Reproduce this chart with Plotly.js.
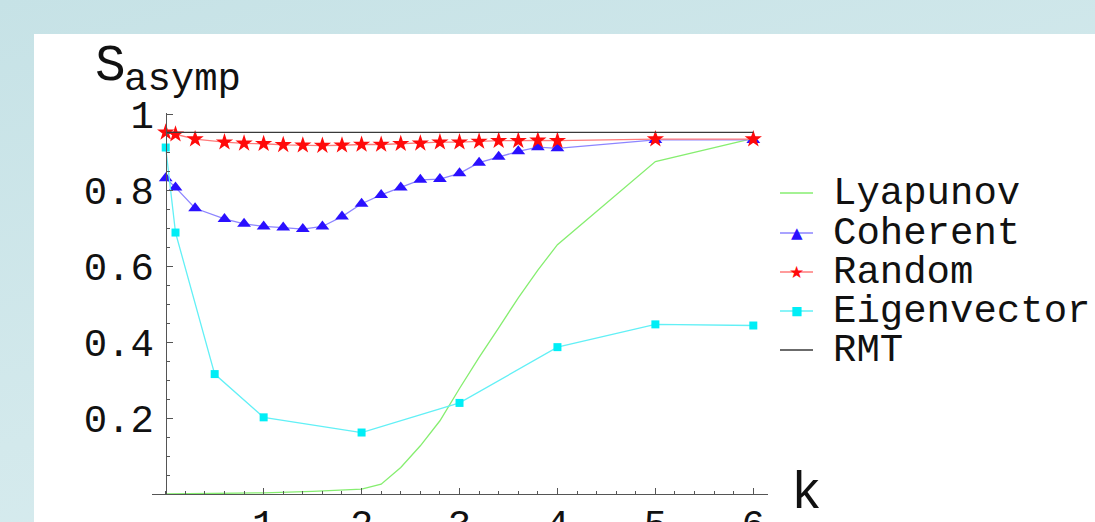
<!DOCTYPE html>
<html>
<head>
<meta charset="utf-8">
<script src="https://cdn.plot.ly/plotly-3.0.1.min.js"></script>
<style>
html,body{margin:0;padding:0;width:1095px;height:522px;overflow:hidden;
 background:linear-gradient(165deg,#c6e2e6 0%,#d3e9ec 55%,#dbeef1 100%);}
#chart{position:absolute;left:34px;top:34px;width:1061px;height:488px;background:#fff;}
</style>
</head>
<body>
<div id="chart"></div>
<script>
// ---- data ----
var kMain = [0,0.1,0.3,0.6,0.8,1.0,1.2,1.4,1.6,1.8,2.0,2.2,2.4,2.6,2.8,3.0,3.2,3.4,3.6,3.8,4.0,5,6];
var coherent = [0.832,0.808,0.753,0.725,0.712,0.705,0.702,0.698,0.705,0.731,0.765,0.788,0.808,0.828,0.830,0.845,0.873,0.889,0.903,0.914,0.911,0.933,0.933];
var random = [0.953,0.948,0.935,0.927,0.924,0.923,0.920,0.919,0.918,0.919,0.921,0.921,0.923,0.924,0.927,0.927,0.929,0.931,0.931,0.932,0.931,0.935,0.935];
var kEig = [0,0.1,0.5,1,2,3,4,5,6];
var eigenvector = [0.913,0.689,0.316,0.202,0.162,0.240,0.387,0.447,0.444];
var kLyap = [0,0.5,1,1.5,2,2.2,2.4,2.6,2.8,3.0,3.2,3.4,3.6,3.8,4,5,6];
var lyapunov = [0,0.001,0.003,0.007,0.013,0.026,0.07,0.127,0.193,0.278,0.36,0.438,0.517,0.59,0.657,0.876,0.937];
var kRMT = [0,6];
var rmt = [0.953,0.953];
var xTicks = [1,2,3,4,5,6];
var yTicks = [0.2,0.4,0.6,0.8,1];
var yTickText = ['0.2','0.4','0.6','0.8','1'];
var seriesNames = ['Lyapunov','Coherent','Random','Eigenvector','RMT'];

// ---- styles ----
var FONT = '"Liberation Mono", monospace';
var styles = {
  Lyapunov:   {line:'#86ee70', marker:null,       symbol:null,          size:0,  glyph:'',  gsize:0},
  Coherent:   {line:'#8d85ff', marker:'#2a10ff',  symbol:'triangle-up', size:12, glyph:'\u25B2', gsize:15},
  Random:     {line:'#ff7a7a', marker:'#ff0a0a',  symbol:'star',        size:13, glyph:'\u2605', gsize:17},
  Eigenvector:{line:'#62f0f6', marker:'#00eef6',  symbol:'square',      size:8,  glyph:'\u25A0', gsize:12},
  RMT:        {line:'#3a3a3a', marker:null,       symbol:null,          size:0,  glyph:'',  gsize:0}
};
var seriesX = {Lyapunov:kLyap, Coherent:kMain, Random:kMain, Eigenvector:kEig, RMT:kRMT};
var seriesY = {Lyapunov:lyapunov, Coherent:coherent, Random:random, Eigenvector:eigenvector, RMT:rmt};

var traces = seriesNames.map(function(n){
  var s = styles[n];
  var t = {x:seriesX[n], y:seriesY[n], name:n, type:'scatter', showlegend:false,
    mode: s.marker ? 'lines+markers' : 'lines',
    line:{color:s.line, width:1.3}, cliponaxis:false};
  if (s.marker) t.marker = {color:s.marker, symbol:s.symbol, size:s.size, line:{width:0}};
  return t;
});

// ---- geometry (absolute page pixels -> paper) ----
var OFFX = 34, OFFY = 34;
var M = {l:118, r:327, t:79, b:28};
var W = 1061, H = 488;
var PW = W - M.l - M.r, PH = H - M.t - M.b;
function PX(ax){ return (ax - OFFX - M.l)/PW; }
function PY(ay){ return (OFFY + H - M.b - ay)/PH; }

var xr = [-0.14, 6.15];
var shapes = [], annotations = [];

// custom legend (tight rows as in the reference)
var rowY = [193,233,272,311,350];
seriesNames.forEach(function(n,i){
  var s = styles[n];
  shapes.push({type:'line', xref:'paper', yref:'paper', x0:PX(780), x1:PX(813), y0:PY(rowY[i]), y1:PY(rowY[i]),
    line:{color:s.line, width:1.3}});
  if (s.glyph) annotations.push({xref:'paper', yref:'paper', x:PX(796.5), y:PY(rowY[i]), xanchor:'center', yanchor:'middle',
    text:s.glyph, showarrow:false, font:{family:'DejaVu Sans', size:s.gsize, color:s.marker}});
  annotations.push({xref:'paper', yref:'paper', x:PX(831), y:PY(rowY[i]+1), xanchor:'left', yanchor:'middle',
    text:n, showarrow:false, font:{family:FONT, size:39, color:'#111'}});
});
// axis titles
annotations.push({xref:'paper', yref:'paper', x:PX(93), y:PY(67), xanchor:'left', yanchor:'middle',
  text:'S', showarrow:false, font:{family:FONT, size:51, color:'#111'}});
annotations.push({xref:'paper', yref:'paper', x:PX(122), y:PY(80), xanchor:'left', yanchor:'middle',
  text:'asymp', showarrow:false, font:{family:FONT, size:39, color:'#111'}});
annotations.push({xref:'paper', yref:'paper', x:PX(789), y:PY(494), xanchor:'left', yanchor:'middle',
  text:'k', showarrow:false, font:{family:FONT, size:51, color:'#111'}});

var axColor = '#555';
var layout = {
  width:W, height:H, margin:M,
  paper_bgcolor:'#ffffff', plot_bgcolor:'rgba(0,0,0,0)',
  showlegend:false,
  xaxis:{range:xr, showgrid:false, zeroline:false, showline:true, linecolor:axColor, linewidth:1,
    tickmode:'array', tickvals:xTicks, ticks:'inside', ticklen:6, tickcolor:axColor, tickwidth:1,
    tickfont:{family:FONT, size:39, color:'#111'}, ticklabelstandoff:-5,
    minor:{dtick:0.2, tick0:0, ticks:'inside', ticklen:3, tickcolor:axColor, tickwidth:1, showgrid:false}},
  yaxis:{range:[0,1.004], showgrid:false, zeroline:false, showline:true, linecolor:axColor, linewidth:1,
    anchor:'free', position:(0 - xr[0])/(xr[1]-xr[0]), side:'left',
    tickmode:'array', tickvals:yTicks, ticktext:yTickText, ticks:'inside', ticklen:6, tickcolor:axColor, tickwidth:1,
    tickfont:{family:FONT, size:39, color:'#111'}, ticklabelstandoff:4,
    minor:{dtick:0.05, tick0:0, ticks:'inside', ticklen:3, tickcolor:axColor, tickwidth:1, showgrid:false}},
  shapes:shapes, annotations:annotations
};
Plotly.newPlot('chart', traces, layout, {displayModeBar:false, staticPlot:true});
</script>
</body>
</html>
